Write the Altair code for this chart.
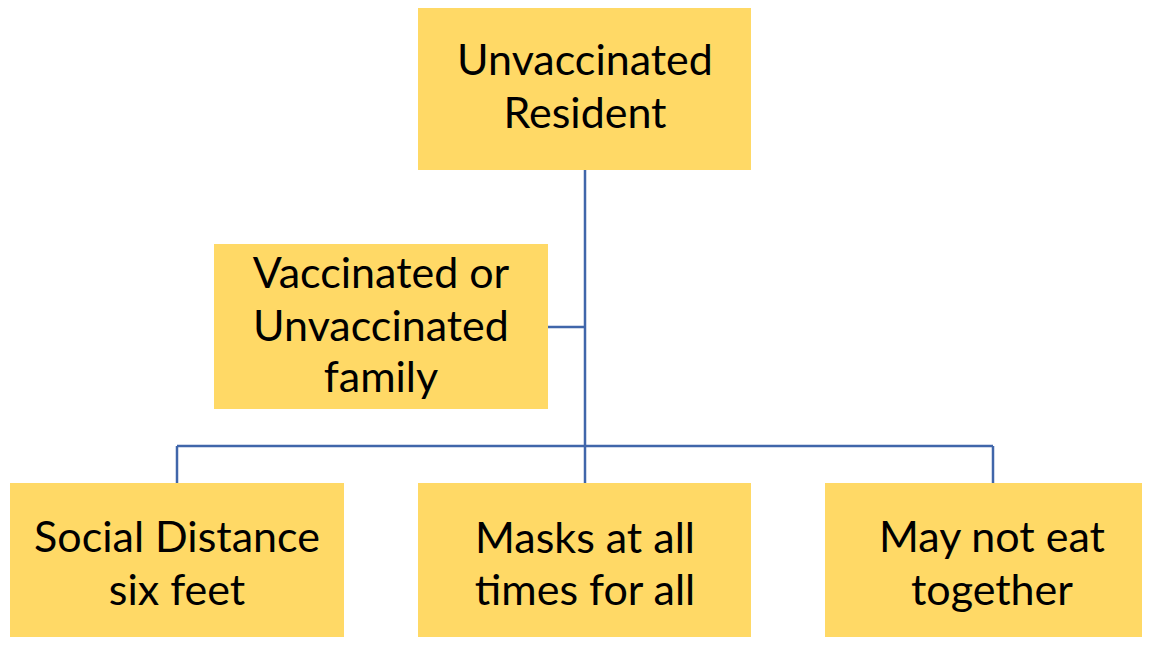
import altair as alt
import pandas as pd

# Boxes (reference pixel coordinates)
box_id = ["top", "left", "b1", "b2", "b3"]
box_x0 = [418, 214, 10, 418, 825]
box_x1 = [751, 548, 344, 751, 1150]
box_y0 = [5, 244, 483, 483, 483]
box_y1 = [170, 409, 645, 645, 645]

# Text lines: label, center x, baseline y
line_text = ["Unvaccinated", "Resident",
             "Vaccinated or", "Unvaccinated", "family",
             "Social Distance", "six feet",
             "Masks at all", "times for all",
             "May not eat", "together"]
line_x = [585, 585, 381, 381, 381, 177, 177, 585, 585, 992, 992]
line_y = [75, 128, 288, 341, 392, 552, 605, 553, 605, 552, 605]

# Connector segments
seg_x0 = [585, 548, 177, 177, 585, 993]
seg_x1 = [585, 585, 993, 177, 585, 993]
seg_y0 = [170, 327, 446, 446, 446, 446]
seg_y1 = [446, 327, 446, 483, 483, 483]

boxes = pd.DataFrame({"id": box_id, "x0": box_x0, "x1": box_x1, "y0": box_y0, "y1": box_y1})
texts = pd.DataFrame({"t": line_text, "x": line_x, "y": line_y})
segs = pd.DataFrame({"x0": seg_x0, "x1": seg_x1, "y0": seg_y0, "y1": seg_y1})

xs = alt.Scale(domain=[8, 1142], zero=False, nice=False)
ys = alt.Scale(domain=[8, 637], zero=False, nice=False, reverse=True)

rects = alt.Chart(boxes).mark_rect(color="#FFD966", clip=True).encode(
    x=alt.X("x0:Q", scale=xs, axis=None),
    x2="x1:Q",
    y=alt.Y("y0:Q", scale=ys, axis=None),
    y2="y1:Q",
)

rules = alt.Chart(segs).mark_rule(color="#4066AA", strokeWidth=2.5, clip=True).encode(
    x=alt.X("x0:Q", scale=xs, axis=None),
    x2="x1:Q",
    y=alt.Y("y0:Q", scale=ys, axis=None),
    y2="y1:Q",
)

labels = alt.Chart(texts).mark_text(
    font="Lato", fontSize=43, color="#000000", align="center", baseline="alphabetic"
).encode(
    x=alt.X("x:Q", scale=xs, axis=None),
    y=alt.Y("y:Q", scale=ys, axis=None),
    text="t:N",
)

chart = alt.layer(rules, rects, labels).properties(
    width=1134, height=629, padding=0, background="white",
    autosize=alt.AutoSizeParams(type="none")
).configure_view(stroke=None, strokeWidth=0)

chart.save("out.html", embed_options={"renderer": "svg", "actions": False})
